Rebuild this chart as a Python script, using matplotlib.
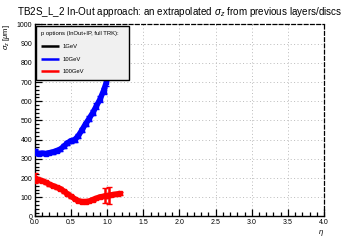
"""sigma_z vs eta, In-Out approach (ROOT style)"""
import matplotlib
matplotlib.use("Agg")
import matplotlib.pyplot as plt
from matplotlib.ticker import MultipleLocator

plt.rcParams["font.family"] = ["Liberation Sans", "DejaVu Sans"]
plt.rcParams["mathtext.fontset"] = "custom"
plt.rcParams["mathtext.rm"] = "Liberation Sans"
plt.rcParams["mathtext.it"] = "Liberation Sans:italic"

# 1 GeV: nothing visible in range
eta_1gev = []
sig_1gev = []

# 10 GeV
eta_10gev = [0.00, 0.025, 0.05, 0.10, 0.15, 0.20, 0.25, 0.30, 0.35, 0.40, 0.45,
             0.50, 0.55, 0.60, 0.65, 0.70, 0.75, 0.80, 0.85, 0.90, 0.95, 0.99,
             1.02, 1.05]
sig_10gev = [340, 330, 328, 330, 328, 332, 336, 343, 350, 366, 383, 395, 400,
             420, 450, 482, 510, 540, 575, 610, 655, 700, 780, 880]
err_10gev = [10, 8, 8, 8, 8, 8, 8, 8, 8, 10, 10, 10, 10, 10, 12, 12, 12, 14,
             14, 15, 15, 18, 20, 25]

# 100 GeV
eta_100gev = [0.00, 0.025, 0.05, 0.10, 0.15, 0.20, 0.25, 0.30, 0.35, 0.40, 0.45,
              0.50, 0.55, 0.60, 0.65, 0.70, 0.75, 0.80, 0.85, 0.90, 0.95, 0.975,
              1.00, 1.025, 1.05, 1.10, 1.15, 1.18]
sig_100gev = [200, 195, 190, 186, 178, 168, 160, 152, 145, 132, 118, 105, 92,
              82, 78, 78, 80, 88, 95, 102, 105, 108, 108, 110, 112, 115, 118, 120]
err_100gev = [28, 10, 8, 8, 8, 8, 8, 8, 8, 8, 8, 8, 6, 6, 6, 6, 6, 6, 6, 6, 6,
              40, 8, 45, 6, 6, 6, 6]

fig = plt.figure(figsize=(3.6, 2.4), dpi=100)
ax = fig.add_axes([0.097, 0.098, 0.803, 0.8])

for eta, sig, err, col, lab in [
    (eta_1gev, sig_1gev, None, "black", "1GeV"),
    (eta_10gev, sig_10gev, err_10gev, "blue", "10GeV"),
    (eta_100gev, sig_100gev, err_100gev, "red", "100GeV"),
]:
    ax.plot(eta, sig, color=col, lw=4, solid_capstyle="butt", label=lab, zorder=3)
    if err is not None:
        ax.errorbar(eta, sig, yerr=err, fmt="s", ms=3, color=col,
                    elinewidth=1.8, capsize=2, zorder=3)

ax.set_xlim(0, 4)
ax.set_ylim(0, 1000)
ax.xaxis.set_major_locator(MultipleLocator(0.5))
ax.xaxis.set_minor_locator(MultipleLocator(0.1))
ax.yaxis.set_major_locator(MultipleLocator(100))
ax.yaxis.set_minor_locator(MultipleLocator(20))
ax.tick_params(which="both", direction="in", top=False, right=False,
               labelsize=5, pad=2, width=0.9)
ax.tick_params(which="major", length=5)
ax.tick_params(which="minor", length=2.8)
ax.grid(True, which="major", color="#bbbbbb", linestyle=(0, (1, 2.5)), lw=0.7)

for s in ["top", "right"]:
    ax.spines[s].set_linestyle((0, (3, 2)))
    ax.spines[s].set_linewidth(0.9)
for s in ["left", "bottom"]:
    ax.spines[s].set_linewidth(1.0)

ax.set_title(r"TB2S_L_2 In-Out approach: an extrapolated $\sigma_{z}$ from previous layers/discs",
             fontsize=7.1, pad=7)
ax.set_xlabel(r"$\eta$", loc="right", fontsize=5.5, labelpad=1)
ax.set_ylabel(r"$\sigma_{z}$ [$\mu$m]", loc="top", fontsize=5.5, labelpad=3)

leg = ax.legend(title="p options (InOut+IP, full TRK):", loc="upper left",
                bbox_to_anchor=(0.003, 0.992, 0.322, 0.0), mode="expand",
                fontsize=4.2, title_fontsize=4.2, alignment="left",
                fancybox=False, shadow=False, framealpha=1,
                facecolor="#f0f0f0", edgecolor="black",
                handlelength=3, handletextpad=0.6, labelspacing=1.3,
                borderpad=0.9, borderaxespad=0)
leg.get_frame().set_linewidth(1.0)
leg.set_zorder(5)
for h in leg.legend_handles:
    h.set_linewidth(1.8)

fig.savefig("out.png", dpi=100)
